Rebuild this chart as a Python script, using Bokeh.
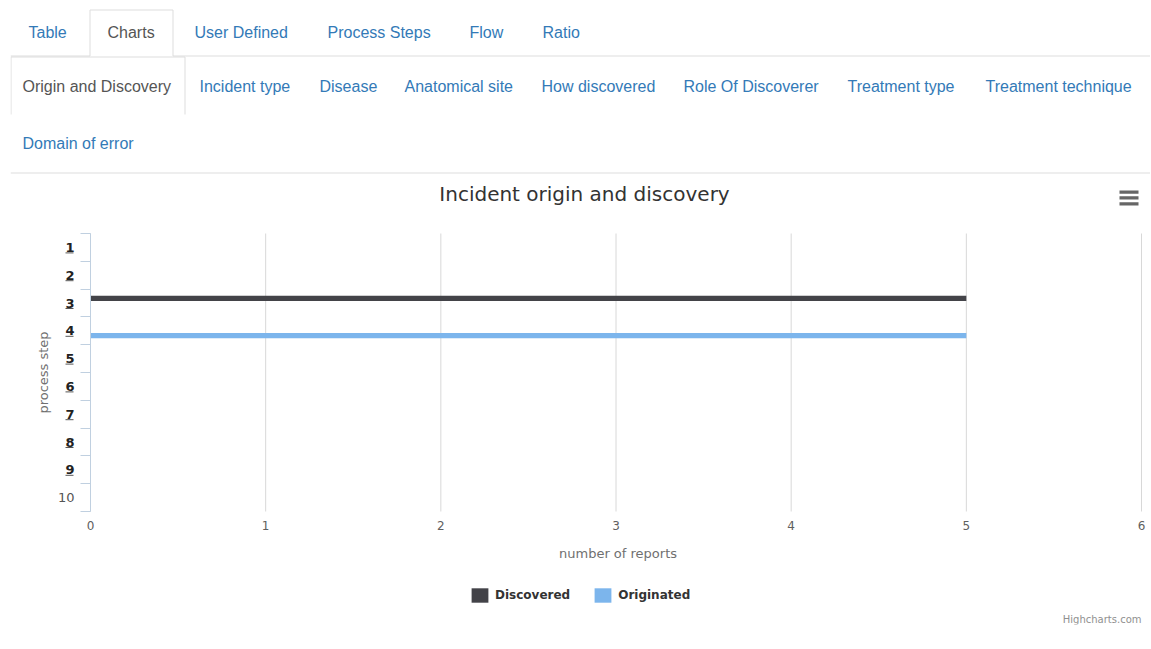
import math
from bokeh.plotting import figure
from bokeh.models import (FixedTicker, ColumnDataSource, LinearAxis, Legend, LegendItem, Range1d)
from bokeh.transform import dodge
from bokeh.core.properties import value
from bokeh.embed import file_html
from bokeh.resources import INLINE

# ---------------- data ----------------
categories = ["1", "2", "3", "4", "5", "6", "7", "8", "9", "10"]
discovered = [0, 0, 5, 0, 0, 0, 0, 0, 0, 0]
originated = [0, 0, 0, 5, 0, 0, 0, 0, 0, 0]
x_ticks = [0, 1, 2, 3, 4, 5, 6]
linked = ["1", "2", "3", "4", "5", "6", "7", "8", "9"]

main_tabs = ["Table", "Charts", "User Defined", "Process Steps", "Flow", "Ratio"]
sub_tabs = ["Origin and Discovery", "Incident type", "Disease", "Anatomical site",
            "How discovered", "Role Of Discoverer", "Treatment type", "Treatment technique",
            "Domain of error"]

# ---------------- page layout (pixels) ----------------
W, H = 1150, 648
FRAME_LEFT = 10
BOTTOM_PANEL = 24
FRAME_BOTTOM = H - BOTTOM_PANEL
PLOT_LEFT, PLOT_RIGHT, PLOT_TOP, PLOT_BOTTOM = 90, 1141, 233, 511
CHART_FONT = "DejaVu Sans"
TAB_FONT = "Liberation Sans"

steps = [int(c) for c in categories]
n = len(steps)
x_px_per_unit = (PLOT_RIGHT - PLOT_LEFT) / (x_ticks[-1] - x_ticks[0])
y_px_per_unit = (PLOT_BOTTOM - PLOT_TOP) / n
y_lo, y_hi = steps[0] - 0.5, steps[-1] + 0.5

x_range = Range1d(x_ticks[0] - (PLOT_LEFT - FRAME_LEFT) / x_px_per_unit,
                  x_ticks[-1] + (W - PLOT_RIGHT) / x_px_per_unit)
y_range = Range1d(y_hi + (FRAME_BOTTOM - PLOT_BOTTOM) / y_px_per_unit,
                  y_lo - PLOT_TOP / y_px_per_unit)

p = figure(width=W, height=H, output_backend="svg", toolbar_location=None,
           x_range=x_range, y_range=y_range, x_axis_location=None, y_axis_location=None,
           min_border_left=FRAME_LEFT, min_border_right=0, min_border_top=0,
           min_border_bottom=BOTTOM_PANEL)
p.extra_x_ranges = {"px": Range1d(FRAME_LEFT, W)}
p.extra_y_ranges = {"px": Range1d(FRAME_BOTTOM, 0)}
p.outline_line_color = None
p.grid.visible = False
p.title.visible = False

def px_text(xs, ys, texts, **kw):
    return p.text(x=xs, y=ys, text=texts, x_range_name="px", y_range_name="px", **kw)

# ---------------- navigation tabs ----------------
main_left = [28, 107, 194, 327, 469, 542]
sub_left = [22, 199, 319, 404, 541, 683, 847, 985, 22]
sub_y = [86] * 8 + [143]
px_text(main_left, [32] * len(main_tabs), main_tabs, text_font=value(TAB_FONT), text_font_size="16px",
        text_baseline="middle", text_align="left",
        text_color=["#555555" if t == "Charts" else "#337ab7" for t in main_tabs])
px_text(sub_left, sub_y, sub_tabs, text_font=value(TAB_FONT), text_font_size="16px",
        text_baseline="middle", text_align="left",
        text_color=["#555555" if t == "Origin and Discovery" else "#337ab7" for t in sub_tabs])
p.multi_line(xs=[[10, 89.5, 89.5, 172.5, 172.5, W],
                 [10.5, 10.5, 184.5, 184.5],
                 [10, W]],
             ys=[[55.5, 55.5, 9.5, 9.5, 55.5, 55.5],
                 [114, 56.5, 56.5, 114],
                 [172.5, 172.5]],
             line_color="#dddddd", line_width=1, x_range_name="px", y_range_name="px")

# ---------------- chart title, menu icon, axis titles, credits ----------------
px_text([584], [193], ["Incident origin and discovery"], text_font=value(CHART_FONT),
        text_font_size="20px", text_color="#333333", text_align="center", text_baseline="middle")
p.quad(left=1119, right=1138, top=[190, 195.7, 201.7], bottom=[193.2, 198.9, 204.9],
       fill_color="#666666", line_color=None, x_range_name="px", y_range_name="px")
px_text([43], [372], ["process step"], text_font=value(CHART_FONT), text_font_size="13px",
        text_color="#707070", text_align="center", text_baseline="middle", angle=math.pi / 2)
px_text([(PLOT_LEFT + PLOT_RIGHT) / 2 + 2], [553], ["number of reports"], text_font=value(CHART_FONT),
        text_font_size="13px", text_color="#707070", text_align="center", text_baseline="middle")
px_text([PLOT_RIGHT], [619], ["Highcharts.com"], text_font=value(CHART_FONT),
        text_font_size="10px", text_color="#909090", text_align="right", text_baseline="middle")

# ---------------- plot area ----------------
src = ColumnDataSource(dict(step=steps, discovered=discovered, originated=originated))
p.segment(x0=x_ticks, x1=x_ticks, y0=[y_lo] * len(x_ticks), y1=[y_hi] * len(x_ticks),
          line_color="#d8d8d8", line_width=1)
r_disc = p.hbar(y=dodge("step", -0.17, range=p.y_range), left=0, right="discovered", height=0.19,
                source=src, fill_color="#434348", line_color=None)
r_orig = p.hbar(y=dodge("step", 0.175, range=p.y_range), left=0, right="originated", height=0.19,
                source=src, fill_color="#7cb5ec", line_color=None)

# category axis (left side, drawn at x = 0)
bounds = [s - 0.5 for s in steps] + [steps[-1] + 0.5]
yax = LinearAxis(fixed_location=0, bounds=(y_lo, y_hi),
                 ticker=FixedTicker(ticks=bounds),
                 major_label_overrides={b: "" for b in bounds},
                 major_label_standoff=0, major_tick_out=10, major_tick_in=0,
                 major_tick_line_color="#c0d0e0", minor_tick_line_color=None,
                 minor_tick_out=0, minor_tick_in=0,
                 axis_line_color="#c0d0e0")
p.add_layout(yax, "left")

# category labels: linked steps are bold and underlined
p.text(x=[0] * n, y=steps, text=categories, x_offset=-16, text_align="right", text_baseline="middle",
       text_font=value(CHART_FONT), text_font_size="13px",
       text_font_style=["bold" if c in linked else "normal" for c in categories],
       text_color=["#222222" if c in linked else "#555555" for c in categories])
ul_steps = [int(c) for c in linked]
ul_x0 = [-(17 + 8 * len(c)) / x_px_per_unit for c in linked]
ul_x1 = [-17 / x_px_per_unit] * len(linked)
ul_y = [s + 5.5 / y_px_per_unit for s in ul_steps]
p.segment(x0=ul_x0, x1=ul_x1, y0=ul_y, y1=ul_y, line_color="#555555", line_width=1)

# value axis (below, drawn at the bottom of the category band)
xax = LinearAxis(fixed_location=y_hi, bounds=(x_ticks[0], x_ticks[-1]),
                 ticker=FixedTicker(ticks=x_ticks),
                 axis_line_color=None, major_tick_line_color=None, minor_tick_line_color=None,
                 major_tick_out=0, major_tick_in=0, minor_tick_out=0, minor_tick_in=0,
                 major_label_standoff=9, major_label_text_font=CHART_FONT,
                 major_label_text_font_size="12px", major_label_text_color="#606060")
p.add_layout(xax, "below")

# legend inside the frame, at the bottom centre
legend = Legend(items=[LegendItem(label="Discovered", renderers=[r_disc]),
                       LegendItem(label="Originated", renderers=[r_orig])],
                orientation="horizontal", location=(459, FRAME_BOTTOM - 605), margin=0, padding=4,
                spacing=22, glyph_width=21, glyph_height=18, label_standoff=5, label_height=20,
                label_text_font=CHART_FONT, label_text_font_size="12px",
                label_text_font_style="bold", label_text_color="#333333",
                border_line_color=None, background_fill_alpha=0)
p.add_layout(legend, "center")

open("out.html", "w").write(file_html(p, INLINE))
